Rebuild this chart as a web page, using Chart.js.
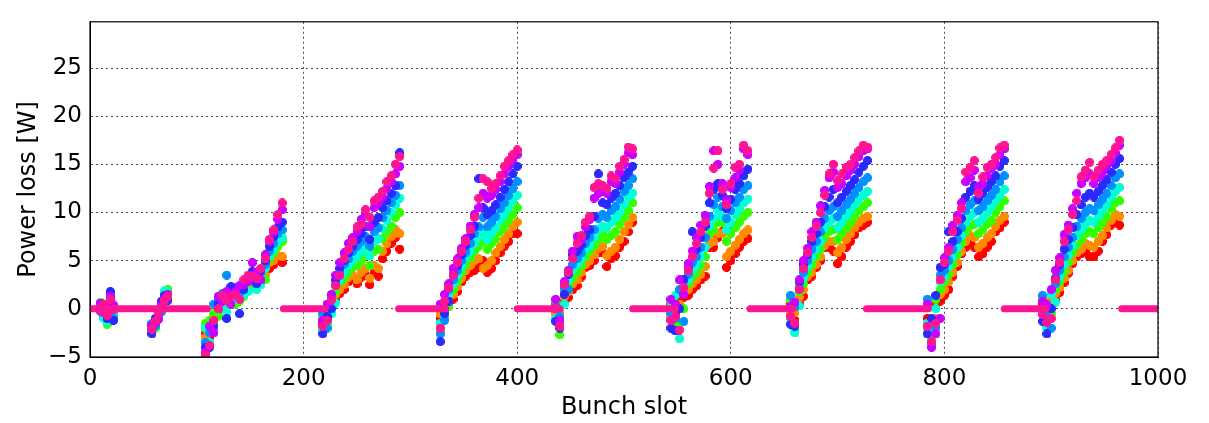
<!DOCTYPE html>
<html>
<head>
<meta charset="utf-8">
<title>Power loss per bunch slot</title>
<script src="https://cdn.jsdelivr.net/npm/chart.js@4.4.1/dist/chart.umd.min.js"></script>
<style>
  html, body { margin: 0; padding: 0; background: #fff; }
  #wrap { width: 1209px; height: 423px; }
</style>
</head>
<body>
<div id="wrap"><canvas id="lossChart"></canvas></div>
<script>
// Series, drawn in this order (red first, pink on top)
const seriesLabels = ['Fill 1', 'Fill 2', 'Fill 3', 'Fill 4', 'Fill 5', 'Fill 6', 'Fill 7', 'Fill 8'];

// Each row: [bunch slot, value of series 1..8] in W
const trainA = [
    [10, 0.2, 0.5, 0.7, 0.4, -0.3, 0.1, 0.6, -0.2],
    [13, -0.8, -0.5, 0.5, -1.0, 0.3, 0.0, -0.4, 0.4],
    [16, -1.2, -0.9, -1.6, -1.3, -0.6, -1.0, 0.2, -0.7],
    [19, 0.8, 1.0, 0.5, 1.2, 1.5, 1.8, 1.3, 1.0],
    [22, -0.3, 0.0, -0.8, -0.5, -1.0, -1.2, 0.4, -0.1]
];
const trainB = [
    [58, -2.2, -2.0, -1.8, -2.5, -1.5, -2.6, -1.7, -2.1],
    [61, -1.6, -1.4, -2.0, -1.2, -1.8, -1.0, -1.5, -1.3],
    [64, -0.8, -1.0, -0.4, -0.9, -0.2, -0.6, -1.1, -0.5],
    [67, 0.3, 0.0, 0.6, 0.2, -0.3, 0.8, 0.4, 0.1],
    [70, 1.2, 1.0, 1.6, 1.9, 0.8, 1.4, 1.1, 0.9],
    [73, 1.0, 1.4, 2.0, 1.6, 1.2, 0.9, 1.5, 1.3]
];
const trainC = [
    [108, -2.5, -3.0, -1.5, -2.0, -3.5, -4.0, -4.5, -4.8],
    [112, -3.0, -2.0, -1.2, -3.5, -2.5, -4.0, -1.8, -3.8],
    [116, -1.0, -1.5, -0.5, -2.0, 0.5, -1.8, -2.5, -1.2],
    [120, -0.2, 0.3, -0.8, 0.8, 1.0, 0.5, 1.3, 0.0],
    [124, 0.6, 0.2, 1.0, 0.4, 1.6, 1.2, 0.8, 1.4],
    [128, 0.8, 1.2, 0.4, -0.3, 3.5, -1.0, 1.8, 0.9],
    [132, 1.0, 0.6, 1.5, 0.9, 2.0, 2.3, 0.5, 1.3],
    [136, 1.3, 0.9, 0.5, 1.0, 2.2, 1.6, 1.8, 1.5],
    [140, 1.5, 1.2, 0.8, 2.0, 1.6, -0.5, 2.4, 1.0],
    [144, 1.8, 2.2, 1.3, 1.5, 2.8, 2.0, 2.5, 3.0],
    [148, 2.6, 2.0, 2.4, 1.8, 3.0, 3.3, 2.8, 3.5],
    [152, 2.8, 3.0, 2.5, 3.3, 3.6, 3.9, 4.8, 3.4],
    [156, 2.5, 2.8, 3.0, 2.0, 3.5, 2.6, 3.8, 3.2],
    [160, 2.8, 3.2, 3.5, 2.5, 3.8, 4.0, 3.0, 4.2],
    [164, 4.0, 3.5, 3.0, 4.2, 4.6, 5.0, 5.6, 5.2],
    [168, 4.2, 4.8, 5.2, 5.5, 6.0, 6.5, 7.0, 7.2],
    [172, 4.6, 5.0, 5.8, 6.2, 6.8, 7.5, 8.0, 8.2],
    [176, 5.0, 5.5, 6.5, 7.0, 7.8, 8.5, 9.3, 9.8],
    [180, 4.8, 5.4, 7.0, 7.4, 8.2, 9.0, 10.3, 11.0]
];
const trainD = [
    [218, -1.5, -2.0, -1.0, -2.2, -0.5, -2.6, -1.2, -1.8],
    [222, -1.0, -0.4, -1.5, 0.2, -2.0, -0.8, 0.5, -1.2],
    [226, 0.2, 0.8, 0.5, -0.5, 1.2, 0.0, 1.5, 0.9],
    [230, 1.0, 1.5, 1.8, 0.6, 2.5, 3.0, 3.5, 2.4],
    [234, 1.6, 2.0, 2.8, 3.0, 3.6, 4.2, 4.8, 3.5],
    [238, 2.0, 2.5, 3.2, 3.8, 4.6, 5.0, 5.8, 5.2],
    [242, 2.8, 3.3, 3.8, 4.5, 5.2, 5.8, 6.8, 6.2],
    [246, 3.2, 3.5, 4.3, 5.0, 6.0, 6.5, 7.4, 7.0],
    [250, 2.6, 3.0, 4.5, 5.4, 6.5, 7.2, 8.0, 8.5],
    [254, 3.3, 3.8, 5.0, 6.0, 7.0, 7.8, 9.3, 8.8],
    [258, 3.5, 4.2, 5.5, 6.5, 7.5, 8.5, 9.8, 10.3],
    [262, 2.5, 3.2, 4.5, 5.5, 6.5, 7.2, 8.5, 9.5],
    [266, 3.8, 4.5, 6.0, 7.0, 8.0, 9.0, 10.5, 11.2],
    [270, 3.4, 4.2, 6.2, 7.3, 8.4, 9.5, 11.0, 11.6],
    [274, 5.2, 6.0, 7.3, 8.3, 9.5, 10.5, 11.6, 12.2],
    [278, 6.0, 6.8, 8.0, 9.2, 10.2, 11.2, 12.5, 13.2],
    [282, 6.8, 7.5, 8.6, 10.0, 11.0, 12.0, 13.2, 13.8],
    [286, 7.4, 8.2, 9.5, 10.8, 11.8, 12.8, 14.0, 15.0],
    [290, 6.2, 7.8, 10.0, 11.5, 12.8, 16.2, 14.8, 15.8]
];
const trainE = [
    [328, -1.0, -0.5, -2.2, -1.5, -2.6, -3.4, 0.5, -2.0],
    [332, -0.2, 0.5, -0.8, 0.0, -1.2, -0.5, 1.5, 0.8],
    [336, 0.6, 1.0, 0.2, 1.5, 2.0, 0.8, 2.6, 2.2],
    [340, 1.0, 1.5, 2.0, 2.6, 3.0, 3.6, 4.2, 3.5],
    [344, 1.8, 2.3, 2.8, 3.5, 4.0, 4.5, 5.2, 4.8],
    [348, 2.8, 3.2, 3.8, 4.4, 5.0, 5.6, 6.3, 6.0],
    [352, 3.4, 4.0, 4.6, 5.3, 5.9, 6.6, 7.3, 7.0],
    [356, 3.8, 4.5, 5.3, 6.0, 6.8, 7.6, 8.6, 8.2],
    [360, 4.0, 5.0, 6.0, 6.8, 7.8, 8.6, 9.8, 9.5],
    [364, 4.3, 5.2, 6.5, 7.5, 8.5, 13.5, 10.5, 11.5],
    [368, 5.0, 4.2, 7.0, 8.0, 9.5, 10.5, 12.0, 13.5],
    [372, 3.8, 4.5, 6.2, 7.2, 8.5, 9.8, 11.5, 13.2],
    [376, 4.2, 5.0, 6.8, 7.8, 9.0, 10.2, 11.8, 12.5],
    [380, 5.0, 5.8, 7.3, 8.4, 9.6, 10.8, 12.4, 13.0],
    [384, 5.8, 6.5, 8.0, 9.2, 10.4, 11.6, 13.2, 13.8],
    [388, 6.5, 7.2, 8.6, 9.8, 11.0, 12.4, 14.0, 14.8],
    [392, 7.0, 7.8, 9.2, 10.5, 11.8, 13.2, 14.8, 15.4],
    [396, 7.8, 8.6, 9.8, 11.2, 12.5, 14.0, 15.5, 16.0],
    [400, 7.8, 9.0, 10.5, 11.8, 13.2, 14.8, 16.0, 16.5]
];
const trainF = [
    [436, 0.5, -0.5, 0.8, -1.0, 0.2, -1.3, 1.0, 0.0],
    [440, -1.0, -0.3, -2.7, -1.5, -0.8, -2.0, -1.2, -1.8],
    [444, 0.8, 1.3, 1.8, 0.5, 2.2, 1.5, 2.8, 2.5],
    [448, 1.2, 1.8, 2.4, 3.0, 2.0, 3.6, 4.0, 3.8],
    [452, 2.0, 2.6, 3.2, 4.0, 4.6, 5.6, 6.0, 5.2],
    [456, 2.4, 3.0, 3.8, 4.6, 5.2, 6.0, 7.5, 6.8],
    [460, 3.3, 3.8, 4.5, 5.2, 5.8, 6.6, 7.2, 7.6],
    [464, 4.3, 4.6, 5.4, 6.2, 6.8, 7.6, 8.5, 9.0],
    [468, 4.5, 5.0, 6.0, 6.6, 7.4, 8.2, 9.3, 9.6],
    [472, 5.0, 5.6, 6.6, 7.4, 8.2, 9.6, 11.5, 12.6],
    [476, 5.8, 6.3, 7.2, 8.2, 9.4, 14.0, 12.0, 13.0],
    [480, 5.8, 6.5, 7.8, 8.6, 9.8, 11.0, 12.2, 12.8],
    [484, 4.4, 5.5, 7.2, 8.4, 9.5, 10.8, 12.0, 12.5],
    [488, 5.2, 6.0, 7.6, 9.0, 10.2, 11.5, 13.2, 13.8],
    [492, 5.5, 6.4, 8.0, 9.4, 10.6, 12.0, 13.0, 13.5],
    [496, 6.4, 7.2, 8.8, 10.0, 11.4, 12.8, 14.2, 14.8],
    [500, 7.0, 8.0, 9.5, 10.8, 12.2, 13.6, 15.0, 15.5],
    [504, 8.0, 8.8, 10.2, 11.6, 12.8, 14.2, 16.2, 16.8],
    [508, 9.0, 9.5, 11.0, 12.0, 13.5, 14.8, 16.0, 16.6]
];
const trainG = [
    [544, 0.5, -1.0, 0.2, 0.8, -0.5, -2.0, 1.0, -1.2],
    [548, -0.5, -1.2, -2.0, 1.4, -1.0, -2.3, 0.5, -0.8],
    [552, 1.0, 0.5, -1.5, -3.1, 2.0, 0.0, 3.0, -2.2],
    [556, 1.2, 2.0, 0.0, 2.6, -1.3, 3.0, 1.5, 2.2],
    [560, 1.4, 2.0, 2.6, 3.0, 3.6, 4.2, 4.7, 4.0],
    [564, 2.0, 2.6, 3.4, 4.0, 4.8, 8.0, 6.0, 5.4],
    [568, 2.4, 3.0, 3.8, 4.6, 5.4, 6.2, 7.4, 6.8],
    [572, 3.0, 3.6, 4.5, 5.4, 6.4, 7.4, 8.7, 8.0],
    [576, 3.4, 4.4, 5.4, 6.4, 7.4, 8.6, 9.7, 9.0],
    [580, 6.4, 6.8, 7.8, 8.6, 9.6, 11.0, 12.7, 12.0],
    [584, 6.4, 7.0, 8.2, 9.4, 10.8, 12.4, 16.4, 14.6],
    [588, 7.4, 7.8, 9.0, 10.2, 11.6, 13.0, 15.0, 16.4],
    [592, 8.0, 7.8, 9.0, 9.6, 10.6, 11.8, 13.0, 12.4],
    [596, 4.3, 5.4, 7.0, 8.2, 9.4, 10.4, 11.3, 10.8],
    [600, 5.0, 6.0, 7.8, 9.0, 10.2, 11.4, 12.6, 13.0],
    [604, 5.7, 6.6, 8.4, 9.8, 11.0, 12.4, 13.6, 14.7],
    [608, 6.4, 7.2, 9.0, 10.4, 11.6, 13.0, 14.4, 15.0],
    [612, 7.0, 7.8, 9.6, 11.0, 12.4, 13.8, 16.6, 17.0],
    [616, 7.3, 8.2, 10.0, 11.4, 12.8, 14.5, 16.0, 16.4]
];
const trainH = [
    [656, 0.5, -0.5, 1.0, -1.0, 1.4, -1.6, 0.2, -0.8],
    [660, -1.2, -0.4, -2.0, -2.5, 0.2, -1.8, 0.7, -1.5],
    [664, 0.6, 1.2, 1.8, 0.3, 2.2, 2.8, 3.0, 2.0],
    [668, 1.3, 2.0, 2.6, 3.2, 3.8, 4.6, 5.0, 4.2],
    [672, 3.0, 3.4, 3.8, 4.4, 5.0, 5.6, 6.3, 5.8],
    [676, 3.4, 3.8, 4.6, 5.4, 6.2, 7.0, 8.0, 7.4],
    [680, 4.3, 4.6, 5.4, 6.2, 7.0, 7.8, 9.0, 8.6],
    [684, 5.0, 5.4, 6.2, 7.0, 8.0, 9.0, 10.7, 10.0],
    [688, 6.4, 6.6, 7.4, 8.4, 9.4, 10.6, 12.3, 11.8],
    [692, 6.4, 7.0, 8.0, 9.0, 10.2, 11.6, 13.6, 14.0],
    [696, 6.0, 7.0, 8.2, 9.4, 10.6, 12.4, 14.2, 15.0],
    [700, 4.7, 5.8, 7.2, 8.4, 9.6, 11.0, 12.6, 13.3],
    [704, 5.4, 6.4, 7.8, 9.0, 10.2, 11.6, 13.0, 14.0],
    [708, 6.4, 7.2, 8.4, 9.6, 10.8, 12.2, 13.8, 14.7],
    [712, 7.0, 7.8, 9.0, 10.2, 11.4, 12.8, 14.4, 15.0],
    [716, 7.7, 8.4, 9.6, 10.8, 12.0, 13.4, 15.0, 15.7],
    [720, 8.4, 9.0, 10.2, 11.4, 12.6, 14.2, 15.8, 16.4],
    [724, 8.7, 9.4, 10.6, 11.8, 13.2, 14.8, 16.4, 17.0],
    [728, 9.0, 9.6, 11.0, 12.2, 13.6, 15.4, 16.6, 16.8]
];
const trainI = [
    [784, -1.0, 0.2, -2.0, -1.5, 1.0, -2.6, 0.5, -1.8],
    [788, -2.5, -1.5, -3.0, -2.0, -3.6, -1.0, -4.0, -3.4],
    [792, 0.5, -1.0, 1.0, 0.0, -2.0, 1.4, -2.6, -1.5],
    [796, 0.8, 1.5, 2.0, 2.8, 3.5, 4.3, -1.0, 3.0],
    [800, 1.4, 2.0, 2.8, 3.4, 4.0, 4.6, 5.3, 4.8],
    [804, 2.0, 2.8, 3.6, 4.4, 5.0, 8.0, 6.4, 6.0],
    [808, 3.4, 3.8, 4.6, 5.4, 6.2, 7.0, 8.7, 8.0],
    [812, 4.4, 4.8, 5.6, 6.4, 7.2, 8.0, 9.7, 9.2],
    [816, 5.7, 6.0, 6.8, 7.6, 8.4, 9.4, 11.0, 10.4],
    [820, 6.4, 7.0, 8.0, 9.0, 10.2, 11.6, 13.2, 14.2],
    [824, 7.0, 7.6, 8.6, 9.6, 10.8, 12.2, 13.6, 14.7],
    [828, 6.4, 7.4, 8.8, 10.0, 11.2, 12.8, 14.4, 15.4],
    [832, 5.4, 6.4, 7.8, 9.0, 10.2, 11.4, 12.7, 12.0],
    [836, 5.7, 6.8, 8.2, 9.4, 10.6, 12.0, 13.0, 13.7],
    [840, 6.4, 7.4, 8.8, 10.0, 11.2, 12.6, 13.8, 14.7],
    [844, 7.0, 7.8, 9.2, 10.6, 11.8, 13.2, 14.6, 15.0],
    [848, 8.0, 8.6, 10.0, 11.2, 12.4, 13.8, 15.0, 15.7],
    [852, 8.4, 9.2, 10.6, 11.8, 13.2, 14.8, 16.0, 16.7],
    [856, 9.0, 9.6, 11.2, 12.4, 13.8, 15.4, 16.6, 17.0]
];
const trainJ = [
    [892, 0.5, -0.5, 1.0, 0.0, 1.4, -1.3, 0.8, -0.6],
    [896, -1.0, -0.4, -1.6, -2.0, -0.8, -2.6, 0.4, -1.4],
    [900, 0.4, 1.0, -0.5, 1.5, -2.0, 0.0, 2.0, -1.0],
    [904, 1.0, 1.6, 2.0, 0.7, 2.6, 3.2, 4.0, 3.0],
    [908, 1.7, 2.2, 2.8, 3.4, 4.0, 4.6, 5.3, 4.8],
    [912, 2.7, 3.2, 3.8, 4.6, 5.4, 6.2, 7.7, 7.0],
    [916, 3.7, 4.0, 4.8, 5.6, 6.4, 7.2, 8.7, 8.2],
    [920, 4.7, 5.0, 5.8, 6.6, 7.4, 8.4, 10.4, 9.8],
    [924, 5.4, 5.8, 6.6, 7.6, 8.6, 9.8, 12.0, 11.2],
    [928, 5.7, 6.2, 7.2, 8.2, 9.4, 10.8, 13.0, 13.7],
    [932, 6.0, 6.8, 7.8, 8.8, 10.0, 11.6, 13.6, 14.4],
    [936, 5.4, 6.6, 8.0, 9.2, 10.4, 12.0, 14.0, 15.2],
    [940, 5.4, 6.4, 7.8, 9.0, 10.2, 11.6, 13.0, 13.7],
    [944, 6.0, 7.0, 8.4, 9.6, 10.8, 12.2, 13.6, 14.4],
    [948, 7.0, 7.6, 9.0, 10.2, 11.4, 12.8, 14.2, 15.0],
    [952, 7.7, 8.4, 9.6, 10.8, 12.0, 13.4, 14.8, 15.4],
    [956, 8.7, 9.2, 10.4, 11.6, 12.8, 14.2, 15.4, 16.0],
    [960, 9.0, 9.8, 11.0, 12.2, 13.6, 15.0, 16.2, 16.7],
    [964, 8.7, 9.6, 11.2, 12.6, 14.0, 15.6, 17.0, 17.5]
];

// Empty slots (power loss 0) : [first slot, last slot]
const zeroRanges = [[0, 110], [181, 220], [289, 333], [400, 440], [508, 548], [618, 658], [727, 785], [856, 895], [966, 1000]];

// Axis ticks
const xTicks = [0, 200, 400, 600, 800, 1000];
const yTicks = [-5, 0, 5, 10, 15, 20, 25];

const allTrains = [trainA, trainB, trainC, trainD, trainE, trainF, trainG, trainH, trainI, trainJ];
const colors = ['#ff0000', '#ff8c00', '#33ff00', '#00ffd5', '#0090ff', '#2a2aff', '#cc00ff', '#ff1493'];
const zeroColor = '#ff1493';

// Petite croix pleine, comme les marqueurs "+" de matplotlib
function plusMarker(color) {
    const c = document.createElement('canvas');
    c.width = 9;
    c.height = 9;
    const g = c.getContext('2d');
    g.fillStyle = color;
    g.fillRect(2.5, 0, 4, 9);
    g.fillRect(0, 2.5, 9, 4);
    g.fillRect(1, 1, 7, 7);
    return c;
}

const datasets = seriesLabels.map((label, i) => {
    const points = [];
    allTrains.forEach(train => {
        train.forEach(row => points.push({ x: row[0], y: row[i + 1] }));
    });
    return {
        label: label,
        data: points,
        pointStyle: plusMarker(colors[i]),
        backgroundColor: colors[i],
        borderColor: colors[i],
        order: seriesLabels.length - i
    };
});

// Bande des slots vides
const zeroPoints = [];
zeroRanges.forEach(r => {
    zeroPoints.push({ x: r[0], y: 0 }, { x: r[1], y: 0 }, { x: r[1], y: null });
});
datasets.push({
    type: 'line',
    label: 'empty',
    data: zeroPoints,
    borderColor: zeroColor,
    borderWidth: 7,
    borderCapStyle: 'round',
    pointRadius: 0,
    spanGaps: false,
    order: -1
});

// Cadre complet autour de la zone du graphique
const frame = {
    id: 'frame',
    afterDraw(chart) {
        const a = chart.chartArea;
        const ctx = chart.ctx;
        ctx.save();
        ctx.strokeStyle = '#000';
        ctx.lineWidth = 1.2;
        ctx.strokeRect(a.left, a.top, a.right - a.left, a.bottom - a.top);
        ctx.restore();
    }
};

const font = { family: 'DejaVu Sans', size: 23 };
const gridStyle = {
    color: 'rgba(0,0,0,0.7)',
    lineWidth: 1,
    drawTicks: false
};

new Chart(document.getElementById('lossChart'), {
    type: 'scatter',
    data: { datasets: datasets },
    options: {
        responsive: true,
        maintainAspectRatio: false,
        animation: false,
        layout: { padding: { top: 8, right: 51, left: 0, bottom: 0 } },
        plugins: { legend: { display: false }, tooltip: { enabled: false } },
        scales: {
            x: {
                type: 'linear',
                min: 0,
                max: 1000,
                afterBuildTicks: s => { s.ticks = xTicks.map(v => ({ value: v })); },
                afterFit: s => { s.height = 66; },
                ticks: { font: font, color: '#000', padding: 8, maxRotation: 0, callback: v => String(v) },
                grid: gridStyle,
                border: { display: true, color: '#000', dash: [2, 3] },
                title: { display: true, text: 'Bunch slot', font: { family: 'DejaVu Sans', size: 24 }, color: '#000', padding: { top: 0, bottom: 1 } }
            },
            y: {
                min: -5,
                max: 29.8,
                afterBuildTicks: s => { s.ticks = yTicks.map(v => ({ value: v })); },
                afterFit: s => { s.width = 90; },
                ticks: {
                    font: font,
                    color: '#000',
                    padding: 8,
                    callback: v => String(v).replace('-', '\u2212')
                },
                grid: gridStyle,
                border: { display: true, color: '#000', dash: [2, 3] },
                title: { display: true, text: 'Power loss [W]', font: { family: 'DejaVu Sans', size: 24 }, color: '#000', padding: { top: 14, bottom: 0 } }
            }
        }
    },
    plugins: [frame]
});
</script>
</body>
</html>
